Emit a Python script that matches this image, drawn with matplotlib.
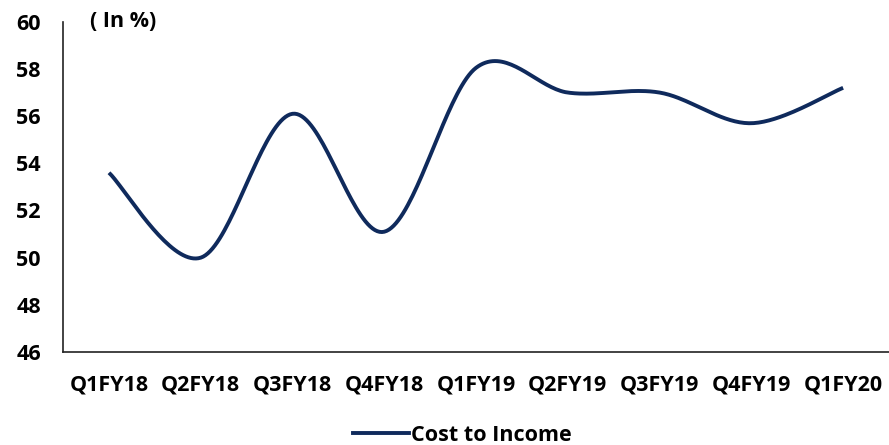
import numpy as np
import matplotlib.pyplot as plt
from matplotlib.lines import Line2D

quarters = ["Q1FY18", "Q2FY18", "Q3FY18", "Q4FY18", "Q1FY19",
            "Q2FY19", "Q3FY19", "Q4FY19", "Q1FY20"]
cost_to_income = [53.6, 50.0, 56.1, 51.1, 58.05, 57.0, 57.0, 55.7, 57.2]
y_ticks = [46, 48, 50, 52, 54, 56, 58, 60]

LINE_COLOR = "#0f2a5c"
FONT = "Open Sans"
FSIZE = 15.5


def smooth_curve(xs, ys, steps=40):
    # cubic bezier through every point, tangents from the neighbours
    pts = np.column_stack([xs, ys]).astype(float)
    padded = np.vstack([pts[0], pts, pts[-1]])
    out = []
    t = np.linspace(0, 1, steps)[:, None]
    for i in range(len(pts) - 1):
        p0, p1, p2, p3 = padded[i], padded[i + 1], padded[i + 2], padded[i + 3]
        c1 = p1 + (p2 - p0) / 6
        c2 = p2 - (p3 - p1) / 6
        seg = ((1 - t) ** 3) * p1 + 3 * ((1 - t) ** 2) * t * c1 \
            + 3 * (1 - t) * t ** 2 * c2 + t ** 3 * p2
        out.append(seg if i == 0 else seg[1:])
    seg = np.vstack(out)
    return seg[:, 0], seg[:, 1]


fig = plt.figure(figsize=(8.89, 4.45), dpi=100)
ax = fig.add_axes([0.071, 0.209, 0.929, 0.742])

x = np.arange(len(quarters))
sx, sy = smooth_curve(x, cost_to_income)
ax.plot(sx, sy, color=LINE_COLOR, linewidth=2.8, solid_capstyle="butt")

ax.set_xlim(-0.5, len(quarters) - 0.5)
ax.set_ylim(46, 60)
ax.set_yticks(y_ticks)
ax.set_xticks(x)
ax.set_xticklabels(quarters)
for lbl in ax.get_xticklabels() + ax.get_yticklabels():
    lbl.set_fontfamily(FONT)
    lbl.set_fontweight("bold")
    lbl.set_fontsize(FSIZE)
ax.tick_params(axis="both", length=0)
ax.tick_params(axis="y", pad=16)
ax.tick_params(axis="x", pad=16)

for side in ["top", "right"]:
    ax.spines[side].set_visible(False)
for side in ["left", "bottom"]:
    ax.spines[side].set_color("#222222")
    ax.spines[side].set_linewidth(1.2)

ax.text(0.033, 1.0, "( In %)", transform=ax.transAxes, fontfamily=FONT,
        fontweight="bold", fontsize=FSIZE, ha="left", va="center")

handle = Line2D([], [], color=LINE_COLOR, linewidth=2.8)
fig.legend([handle], ["Cost to Income"], loc="center", bbox_to_anchor=(0.52, 0.022),
           frameon=False, handlelength=2.6, handletextpad=0.1,
           prop={"family": FONT, "weight": "bold", "size": FSIZE})

fig.savefig("out.png", dpi=100)
